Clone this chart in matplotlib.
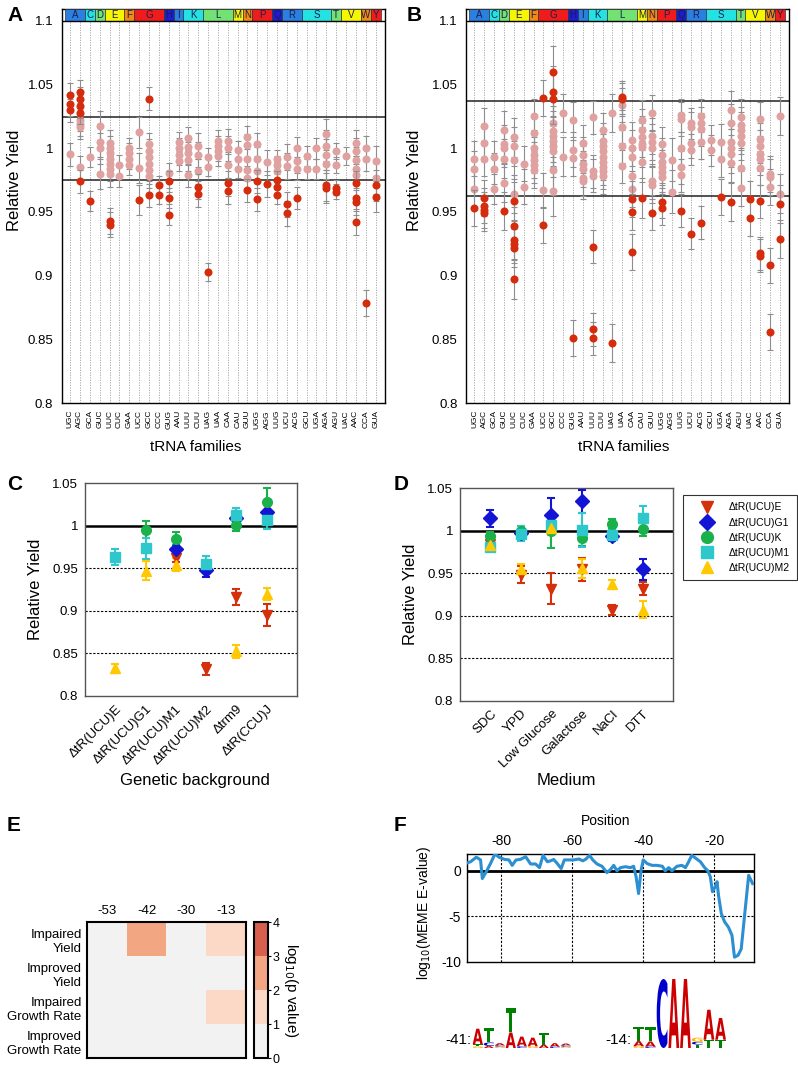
import numpy as np
import matplotlib
matplotlib.use('Agg')
import matplotlib.pyplot as plt
from matplotlib.patches import Rectangle, PathPatch
from matplotlib.colors import ListedColormap, BoundaryNorm
from matplotlib.lines import Line2D
from matplotlib.textpath import TextPath
from matplotlib.font_manager import FontProperties
from matplotlib.transforms import Affine2D

plt.rcParams['font.family'] = ['Liberation Sans', 'DejaVu Sans']
plt.rcParams['axes.unicode_minus'] = False

W, H = 798, 1065

# ---------------- data: panels A / B ----------------
families = ['UGC', 'AGC', 'GCA', 'GUC', 'UUC', 'CUC', 'GAA', 'UCC', 'GCC', 'CCC', 'GUG',
            'AAU', 'UUU', 'CUU', 'UAG', 'UAA', 'CAA', 'CAU', 'GUU', 'UGG', 'AGG', 'UUG',
            'UCU', 'ACG', 'GCU', 'UGA', 'AGA', 'AGU', 'UAC', 'AAC', 'CCA', 'GUA']
aa_letters = ['A', 'C', 'D', 'E', 'F', 'G', 'H', 'I', 'K', 'L', 'M', 'N', 'P', 'Q', 'R',
              'S', 'T', 'V', 'W', 'Y']
aa_sizes = [2, 1, 1, 2, 1, 3, 1, 1, 2, 3, 1, 1, 2, 1, 2, 3, 1, 2, 1, 1]
aa_colors = ['#2a80e0', '#22e2e2', '#72e272', '#f6f600', '#f08a10', '#f01c1c', '#1c1cd0']

yield_a = [
    [1.042, 1.0345, 1.030, 0.9955],
    [1.0445, 1.039, 1.033, 1.028, 1.0225, 1.019, 1.0165, 0.985, 0.974],
    [0.993, 0.9587],
    [1.0175, 1.005, 1.0, 0.980],
    [1.004, 1.0, 0.996, 0.992, 0.988, 0.984, 0.980, 0.943, 0.940],
    [0.987, 0.978],
    [1.0, 0.996, 0.992, 0.987],
    [1.0125, 0.9845, 0.9595],
    [1.039, 1.003, 0.998, 0.993, 0.988, 0.983, 0.978, 0.963],
    [0.971, 0.963],
    [0.9805, 0.974, 0.961, 0.948],
    [1.005, 1.0, 0.995, 0.990],
    [1.008, 1.001, 0.996, 0.991, 0.979],
    [1.002, 0.995, 0.982, 0.970, 0.964],
    [0.9935, 0.985, 0.903],
    [1.006, 1.002, 0.998, 0.994],
    [1.0055, 1.0, 0.987, 0.9725, 0.9665],
    [0.999, 0.992, 0.984],
    [1.0085, 1.0025, 0.992, 0.983, 0.977, 0.967],
    [1.003, 0.992, 0.982, 0.974, 0.960],
    [0.989, 0.972],
    [0.992, 0.987, 0.982, 0.975, 0.970, 0.963],
    [0.993, 0.986, 0.956, 0.949],
    [1.0, 0.990, 0.984, 0.961],
    [0.994, 0.984],
    [1.0, 0.984],
    [1.011, 1.002, 0.995, 0.988, 0.971, 0.969],
    [0.998, 0.987, 0.969, 0.966],
    [0.994],
    [1.004, 0.998, 0.991, 0.984, 0.979, 0.9725, 0.961, 0.9575, 0.942],
    [1.0, 0.992, 0.8786],
    [0.990, 0.9765, 0.971, 0.962],
]
err_a = [0.009, 0.009, 0.008, 0.012, 0.010, 0.008, 0.008, 0.012, 0.009, 0.007, 0.008,
         0.008, 0.009, 0.010, 0.007, 0.008, 0.010, 0.007, 0.009, 0.009, 0.010, 0.007,
         0.010, 0.009, 0.008, 0.008, 0.012, 0.006, 0.007, 0.010, 0.010, 0.012]
limits_a = (0.9755, 1.0245)

yield_b = [
    [0.992, 0.984, 0.968, 0.953],
    [1.0175, 1.004, 0.992, 0.961, 0.955, 0.9515, 0.949],
    [0.9935, 0.984, 0.968],
    [1.0145, 1.0035, 1.0, 0.992, 0.9725, 0.951],
    [1.0085, 1.0015, 0.991, 0.964, 0.9587, 0.939, 0.928, 0.925, 0.922, 0.897],
    [0.988, 0.970],
    [1.025, 1.012, 1.0, 0.995, 0.991, 0.987, 0.983],
    [1.0397, 0.967, 0.940],
    [1.0603, 1.0445, 1.039, 1.020, 1.0135, 1.0095, 1.0055, 1.0015, 0.9975, 0.983, 0.9665],
    [1.0275, 0.9935],
    [1.0225, 0.999, 0.9925, 0.851],
    [1.004, 0.9945, 0.988, 0.984, 0.9765, 0.9745],
    [1.0245, 0.982, 0.9785, 0.9226, 0.858, 0.851],
    [1.014, 1.0055, 1.0015, 0.9975, 0.9935, 0.9895, 0.9855, 0.982, 0.9785],
    [1.0275, 0.847],
    [1.040, 1.0385, 1.034, 1.017, 1.0015, 0.986],
    [1.0065, 1.0, 0.993, 0.978, 0.968, 0.960, 0.950, 0.9188],
    [1.022, 1.0145, 1.009, 1.0035, 1.001, 0.9895, 0.961],
    [1.0275, 1.0095, 1.005, 1.0, 0.974, 0.971, 0.9495],
    [1.0035, 0.995, 0.9895, 0.9855, 0.9815, 0.9775, 0.958, 0.953],
    [0.991, 0.966],
    [1.026, 1.023, 1.0, 0.985, 0.979, 0.951],
    [1.0195, 1.0165, 1.0045, 0.999, 0.933],
    [1.0255, 1.0195, 1.015, 1.005, 0.9415],
    [1.0065, 0.9985],
    [1.005, 0.9915, 0.962],
    [1.030, 1.020, 1.005, 1.0, 0.9955, 0.9885, 0.958],
    [1.0245, 1.0185, 1.0145, 1.0095, 1.0045, 0.9845, 0.9685],
    [0.960, 0.945],
    [1.023, 1.007, 1.0015, 0.9955, 0.992, 0.9845, 0.9585, 0.9175, 0.9155],
    [0.980, 0.9775, 0.9695, 0.908, 0.856],
    [1.0255, 0.9645, 0.956, 0.9285],
]
err_b = [0.014, 0.014, 0.012, 0.015, 0.015, 0.014, 0.014, 0.014, 0.020, 0.015, 0.014,
         0.014, 0.013, 0.014, 0.015, 0.013, 0.014, 0.016, 0.014, 0.013, 0.017, 0.013,
         0.012, 0.013, 0.012, 0.014, 0.015, 0.014, 0.014, 0.013, 0.014, 0.015]
limits_b = (0.9627, 1.0373)

# ---------------- data: panels C / D ----------------
strains = ['ΔtR(UCU)E', 'ΔtR(UCU)G1', 'ΔtR(UCU)K', 'ΔtR(UCU)M1', 'ΔtR(UCU)M2']
strain_colors = ['#d4300c', '#1414d4', '#1ab04a', '#2ec8cc', '#ffc800']
strain_markers = ['v', 'D', 'o', 's', '^']

backgrounds = ['ΔtR(UCU)E', 'ΔtR(UCU)G1', 'ΔtR(UCU)M1', 'ΔtR(UCU)M2', 'Δtrm9', 'ΔtR(CCU)J']
nan = np.nan
bg_vals = [
    [nan, nan, 0.9625, 0.832, 0.9165, 0.895],
    [nan, nan, 0.973, 0.948, 1.009, 1.0165],
    [nan, 0.9955, 0.985, nan, 1.0005, 1.028],
    [0.9635, 0.9735, nan, 0.9555, 1.0125, 1.0065],
    [0.8325, 0.9475, 0.9545, nan, 0.8525, 0.9195],
]
bg_errs = [
    [0, 0, 0.005, 0.007, 0.009, 0.013],
    [0, 0, 0.005, 0.008, 0.008, 0.010],
    [0, 0.010, 0.008, 0, 0.007, 0.017],
    [0.009, 0.012, 0, 0.009, 0.008, 0.010],
    [0.005, 0.011, 0.008, 0, 0.008, 0.007],
]

media = ['SDC', 'YPD', 'Low Glucose', 'Galactose', 'NaCl', 'DTT']
med_vals = [
    [0.9845, 0.9485, 0.932, 0.9545, 0.9065, 0.932],
    [1.0145, 0.997, 1.018, 1.0345, 0.994, 0.9545],
    [0.9935, 1.0, 1.0, 0.992, 1.008, 1.002],
    [0.981, 0.9965, 1.007, 1.001, 0.995, 1.0155],
    [0.983, 0.955, 1.003, 0.956, 0.9375, 0.907],
]
med_errs = [
    [0.004, 0.010, 0.018, 0.014, 0.006, 0.008],
    [0.010, 0.005, 0.020, 0.013, 0.006, 0.012],
    [0.005, 0.006, 0.020, 0.010, 0.006, 0.008],
    [0.004, 0.009, 0.006, 0.020, 0.006, 0.014],
    [0.005, 0.006, 0.008, 0.011, 0.005, 0.010],
]

# ---------------- data: panel E ----------------
motif_pos = ['-53', '-42', '-30', '-13']
phenotypes = ['Impaired\nYield', 'Improved\nYield', 'Impaired\nGrowth Rate', 'Improved\nGrowth Rate']
log_p = [
    [0.0, 2.5, 0.0, 1.5],
    [0.0, 0.0, 0.0, 0.0],
    [0.0, 0.0, 0.0, 1.5],
    [0.0, 0.0, 0.0, 0.0],
]
heat_colors = ['#f2f2f2', '#fcd9c6', '#f2a682', '#d6604d']

# ---------------- data: panel F ----------------
position = [-90, -88.6, -87, -85.8, -85.3, -84.2, -83, -81.75, -80.6, -79, -77.8, -76.9,
            -75.8, -74.6, -73.1, -71.7, -70.3, -69.2, -68.2, -67, -66.1, -65.2, -64.2,
            -63.1, -62.2, -61, -59.6, -58.1, -57, -56.1, -55.1, -54.2, -53, -51.6, -50.2,
            -49.2, -48.3, -47.4, -46.4, -45, -43.6, -42.7, -42, -41.3, -40.6, -40, -38.9,
            -37.5, -36.1, -34.6, -33.8, -32.8, -31.9, -30.5, -29.1, -28.1, -27.2, -26.3,
            -25.1, -23.9, -22.7, -21.8, -21.1, -20.5, -19.7, -19.2, -18.8, -18, -17.1, -16,
            -15, -14.3, -13.3, -12.4, -11.4, -10.3, -9.2]
meme_e = [0.8, 1.0, 1.5, 1.2, -0.85, -0.1, 0.8, 1.85, 1.5, 1.25, 1.2, 0.6, 1.2, 1.25, 1.55,
          0.75, 0.75, 0.35, 1.7, 1.0, 1.1, 1.25, 0.8, 0.25, 1.2, 1.2, 1.2, 1.3, 1.1, 1.3,
          1.7, 1.2, 0.75, 0.5, -0.2, 0.15, 0.6, 0.0, 0.35, 0.45, 0.35, 0.5, -0.65, -2.5,
          0.05, 1.2, 0.8, 0.6, 0.6, 0.5, 0.0, 0.35, 0.0, 0.5, 0.6, 0.35, 1.0, 1.7, 1.35,
          1.0, 0.35, 0.0, -0.65, -2.3, -1.75, -1.2, -2.7, -4.7, -5.6, -6.2, -7.1, -9.5,
          -9.3, -8.6, -4.7, -0.5, -1.4]

logo_41 = [
    [('G', 0.05), ('T', 0.06), ('A', 0.45)],
    [('A', 0.06), ('C', 0.10), ('T', 0.42)],
    [('G', 0.04), ('C', 0.04), ('A', 0.06)],
    [('A', 0.45), ('T', 0.70)],
    [('C', 0.05), ('A', 0.28)],
    [('G', 0.05), ('A', 0.25)],
    [('A', 0.10), ('T', 0.33)],
    [('C', 0.04), ('A', 0.10)],
    [('G', 0.04), ('C', 0.04), ('A', 0.05)],
]
logo_14 = [
    [('G', 0.05), ('A', 0.15), ('T', 0.42)],
    [('C', 0.04), ('A', 0.15), ('T', 0.42)],
    [('C', 2.0)],
    [('A', 2.0)],
    [('A', 2.0)],
    [('T', 0.10), ('C', 0.08), ('G', 0.12)],
    [('T', 0.24), ('A', 0.87)],
    [('T', 0.24), ('A', 0.63)],
]
logo_colors = {'A': '#cc0000', 'C': '#0000cc', 'G': '#ffb300', 'T': '#008000'}


def box(l, t, r, b):
    return [l / W, 1 - b / H, (r - l) / W, (b - t) / H]


def trna_panel(ax, vals, errs, limits):
    lo, hi = limits
    top = 1.1094
    ax.set_xlim(-0.85, 31.95)
    ax.set_ylim(0.8, top)
    ax.vlines(range(len(families)), 0.8, 1.1, colors='#a0a0a0', lw=0.6,
              linestyles=(0, (1.5, 1.5)), zorder=0)
    x0 = -0.5
    for k, (aa, size) in enumerate(zip(aa_letters, aa_sizes)):
        ax.add_patch(Rectangle((x0, 1.1), size, top - 1.1, fc=aa_colors[k % 7],
                               ec='#333333', lw=0.5, zorder=3))
        ax.text(x0 + size / 2, (1.1 + top) / 2, aa, ha='center', va='center',
                fontsize=7, color='#1c1c50', zorder=4)
        x0 += size
    ax.axhline(1.1, color='black', lw=1, zorder=4)
    ax.axhline(hi, color='#222222', lw=1.1, zorder=2)
    ax.axhline(lo, color='#222222', lw=1.1, zorder=2)
    for i, (col, e) in enumerate(zip(vals, errs)):
        col = np.array(col)
        out = (col > hi) | (col < lo)
        for mask, c, z in [(~out, '#e0a2a0', 4), (out, '#d42c0c', 5)]:
            if mask.any():
                ax.errorbar(np.full(mask.sum(), i), col[mask], yerr=e, fmt='o', color=c,
                            ecolor='#8e8e8e', elinewidth=0.8, capsize=2.5, capthick=0.8,
                            ms=5.8, mec='none', zorder=z)
    ax.set_xticks(range(len(families)))
    ax.set_xticklabels(families, rotation=90, fontsize=6)
    ticks = [0.8, 0.85, 0.9, 0.95, 1.0, 1.05, 1.1]
    ax.set_yticks(ticks)
    ax.set_yticklabels(['0.8', '0.85', '0.9', '0.95', '1', '1.05', '1.1'], fontsize=9.5)
    ax.tick_params(axis='x', length=0, pad=5)
    ax.tick_params(axis='y', length=0, pad=6)
    ax.set_ylabel('Relative Yield', fontsize=12)
    ax.set_xlabel('tRNA families', fontsize=11)
    for s in ax.spines.values():
        s.set_linewidth(1)


def strain_panel(ax, cats, vals, errs):
    ax.set_xlim(-1, 6)
    ax.set_ylim(0.8, 1.05)
    for y in [0.85, 0.9, 0.95]:
        ax.axhline(y, color='black', lw=0.8, ls=(0, (2, 1.5)), zorder=1)
    ax.axhline(1.0, color='black', lw=1.8, zorder=1)
    x = np.arange(len(cats))
    for v, e, c, m in zip(vals, errs, strain_colors, strain_markers):
        ax.errorbar(x, v, yerr=e, fmt=m, color=c, mec=c, ms=7, capsize=3,
                    elinewidth=1.5, capthick=1.5, zorder=3)
    ax.set_xticks(x)
    ax.set_xticklabels(cats, rotation=45, ha='right', rotation_mode='anchor', fontsize=9.5)
    ax.set_yticks([0.8, 0.85, 0.9, 0.95, 1.0, 1.05])
    ax.set_yticklabels(['0.8', '0.85', '0.9', '0.95', '1', '1.05'], fontsize=9.5)
    ax.tick_params(length=0, pad=5)
    ax.set_ylabel('Relative Yield', fontsize=12)
    for s in ax.spines.values():
        s.set_color('#555555')
        s.set_linewidth(1)


logo_font = FontProperties(family='DejaVu Sans', weight='bold')


def draw_logo(ax, cols, x_start, width, base, bit):
    for i, stack in enumerate(cols):
        y = base
        for ch, h in stack:
            tp = TextPath((0, 0), ch, size=1, prop=logo_font)
            bb = tp.get_extents()
            hh = h * bit
            t = (Affine2D().translate(-bb.x0, -bb.y0)
                 .scale(width * 0.92 / bb.width, hh / bb.height)
                 .translate(x_start + i * width, y))
            ax.add_patch(PathPatch(t.transform_path(tp), fc=logo_colors[ch], ec='none'))
            y += hh


fig = plt.figure(figsize=(W / 100, H / 100), dpi=100)

# A
ax_a = fig.add_axes(box(61.7, 9, 385, 403))
trna_panel(ax_a, yield_a, err_a, limits_a)
ax_a.yaxis.set_label_coords(-0.123, 0.566)
ax_a.xaxis.set_label_coords(0.415, -0.094)

# B
ax_b = fig.add_axes(box(466, 9, 789.3, 403))
trna_panel(ax_b, yield_b, err_b, limits_b)
ax_b.yaxis.set_label_coords(-0.136, 0.566)
ax_b.xaxis.set_label_coords(0.489, -0.094)

# C
ax_c = fig.add_axes(box(85, 483.3, 297, 696))
strain_panel(ax_c, backgrounds, bg_vals, bg_errs)
ax_c.set_xlabel('Genetic background', fontsize=12)
ax_c.yaxis.set_label_coords(-0.198, 0.5)
ax_c.xaxis.set_label_coords(0.519, -0.36)

# D
ax_d = fig.add_axes(box(460, 488.3, 673.3, 700.7))
strain_panel(ax_d, media, med_vals, med_errs)
ax_d.set_xlabel('Medium', fontsize=12)
ax_d.yaxis.set_label_coords(-0.197, 0.5)
ax_d.xaxis.set_label_coords(0.5, -0.339)

handles = [Line2D([], [], marker=m, color=c, ls='none', ms=8.5)
           for c, m in zip(strain_colors, strain_markers)]
leg = fig.legend(handles, strains, loc='upper left', bbox_to_anchor=(683 / W, 1 - 495 / H),
                 frameon=True, fancybox=False, edgecolor='black', fontsize=7.5,
                 handlelength=3.2, handletextpad=0.5, borderpad=0.7, labelspacing=0.5,
                 borderaxespad=0)
leg.get_frame().set_linewidth(0.8)

# E
ax_e = fig.add_axes(box(87.3, 922.3, 245.7, 1058.3))
cmap = ListedColormap(heat_colors)
norm = BoundaryNorm([0, 1, 2, 3, 4], cmap.N)
im = ax_e.imshow(np.array(log_p), cmap=cmap, norm=norm, aspect='auto')
ax_e.set_xticks(range(len(motif_pos)))
ax_e.set_xticklabels(motif_pos, fontsize=9.5)
ax_e.xaxis.tick_top()
ax_e.set_yticks(range(len(phenotypes)))
ax_e.set_yticklabels(phenotypes, fontsize=9.5)
ax_e.tick_params(length=0, pad=4)
for s in ax_e.spines.values():
    s.set_linewidth(1.5)
cax = fig.add_axes(box(254.3, 922.3, 268.3, 1058.3))
cb = fig.colorbar(im, cax=cax, ticks=[0, 1, 2, 3, 4])
cb.outline.set_linewidth(1.5)
cax.tick_params(labelsize=9, length=2, pad=1)
cax.set_ylabel('log$_{10}$(p value)', rotation=-90, va='bottom', fontsize=11, labelpad=2)

# F
ax_f = fig.add_axes(box(466.7, 854, 754, 961.7))
ax_f.plot(position, meme_e, color='#2b8fd1', lw=2.2, zorder=3)
ax_f.set_xlim(-89.7, -8.8)
ax_f.set_ylim(-10, 1.85)
ax_f.xaxis.tick_top()
ax_f.xaxis.set_label_position('top')
ax_f.set_xticks([-80, -60, -40, -20])
ax_f.set_yticks([0, -5, -10])
for xv in [-80, -60, -40, -20]:
    ax_f.axvline(xv, color='black', lw=0.8, ls=(0, (2, 1.5)), zorder=1)
ax_f.axhline(-5, color='black', lw=0.8, ls=(0, (2, 1.5)), zorder=1)
ax_f.axhline(0, color='black', lw=2, zorder=2)
ax_f.tick_params(length=0, labelsize=10, pad=4)
ax_f.set_xlabel('Position', fontsize=10)
ax_f.set_ylabel('log$_{10}$(MEME E-value)', fontsize=10)
ax_f.yaxis.set_label_coords(-0.117, 0.457)
ax_f.xaxis.set_label_coords(0.484, 1.27)
for s in ax_f.spines.values():
    s.set_linewidth(1)

# sequence logos
ax_l = fig.add_axes([430 / W, 0, 368 / W, 100 / H])
ax_l.set_xlim(430, 798)
ax_l.set_ylim(0, 100)
ax_l.axis('off')
draw_logo(ax_l, logo_41, 472.7, 11, 17, 34.5)
draw_logo(ax_l, logo_14, 633.3, 11.7, 17, 34.5)
ax_l.text(471, 25, '-41:', ha='right', va='center', fontsize=11)
ax_l.text(631, 25, '-14:', ha='right', va='center', fontsize=11)

# panel letters
for lab, x, y in [('A', 7, 6), ('B', 407, 6), ('C', 7, 475), ('D', 394, 475),
                  ('E', 7, 816), ('F', 394, 816)]:
    fig.text(x / W, 1 - y / H, lab, fontsize=15, fontweight='bold', va='top', ha='left')

fig.savefig('out.png', dpi=100)
